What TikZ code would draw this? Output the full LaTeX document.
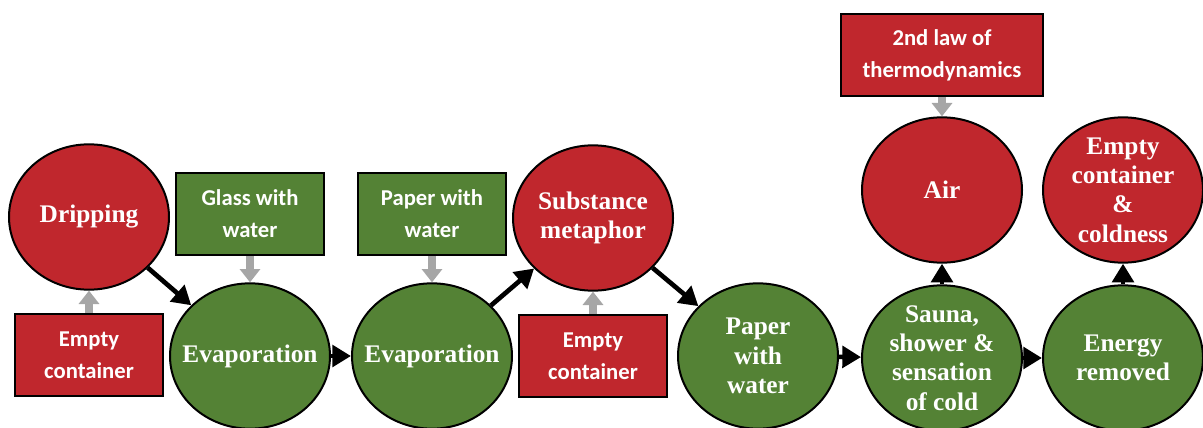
\documentclass[tikz,border=0pt]{standalone}
\usepackage{fontspec}
\setmainfont{Liberation Serif}
\newfontfamily\boxfont{Carlito}
\usetikzlibrary{shapes.geometric,arrows.meta}

\definecolor{ideared}{RGB}{192,39,45}
\definecolor{ideagreen}{RGB}{84,130,53}
\definecolor{feedgray}{RGB}{166,166,166}

\tikzset{every picture/.style={line width=0.75pt}}
\tikzset{
  concept/.style={ellipse, draw=black, line width=1.5pt, minimum width=120pt, minimum height=109pt,
    inner sep=0pt},
  conceptlabel/.style={align=center, text=white, inner sep=0pt,
    font=\fontsize{19}{22}\selectfont\bfseries},
  redconcept/.style={concept, fill=ideared},
  greenconcept/.style={concept, fill=ideagreen},
  source/.style={rectangle, draw=black, line width=1.5pt, minimum width=111pt, minimum height=62pt,
    inner sep=0pt, align=center, text=white, font=\boxfont\fontsize{17}{24}\selectfont\bfseries},
  redsource/.style={source, fill=ideared},
  greensource/.style={source, fill=ideagreen},
  flow/.style={-{Triangle[length=14pt,width=16pt]}, line width=3.5pt, black},
  feed/.style={-{Triangle[length=10pt,width=15pt]}, line width=5.5pt, feedgray},
}

\begin{document}
\begin{tikzpicture}[x=0.75pt,y=0.75pt,yscale=-1,xscale=1]
\useasboundingbox (0,0) rectangle (1203,428);

%Ellipses: lower row
\node[redconcept, label={[conceptlabel]center:Dripping}] (drip) at (89,217) {};
\node[greenconcept, label={[conceptlabel]center:Evaporation}] (evapA) at (250,356) {};
\node[greenconcept, label={[conceptlabel]center:Evaporation}] (evapB) at (432,356) {};
\node[redconcept, label={[conceptlabel]center:Substance\\metaphor}] (subst) at (593,218) {};
\node[greenconcept, label={[conceptlabel]center:Paper\\with\\water}] (paperw) at (758,356) {};
\node[greenconcept, label={[conceptlabel]center:Sauna,\\shower \&\\sensation\\of cold}] (sauna) at (942,358) {};
\node[greenconcept, label={[conceptlabel]center:Energy\\removed}] (energy) at (1123,358) {};

%Ellipses: upper row
\node[redconcept, label={[conceptlabel]center:Air}] (air) at (942,190) {};
\node[redconcept, label={[conceptlabel]center:Empty\\container\\\&\\coldness}] (cold) at (1123,190) {};

%Rectangles
\node[redsource] (emptyA) at (89,355) {Empty\\container};
\node[greensource] (glass) at (250,214) {Glass with\\water};
\node[greensource] (paperbox) at (432,214) {Paper with\\water};
\node[redsource] (emptyB) at (593,356) {Empty\\container};
\node[redsource, minimum width=152pt] (law) at (942,55) {2nd law of\\thermodynamics};

%Gray arrows
\draw[feed] (emptyA) -- (drip);
\draw[feed] (glass) -- (evapA);
\draw[feed] (paperbox) -- (evapB);
\draw[feed] (emptyB) -- (subst);
\draw[feed] (law) -- (air);

%Black arrows
\draw[flow] (drip) -- (evapA);
\draw[flow] (evapA) -- (evapB);
\draw[flow] (evapB) -- (subst);
\draw[flow] (subst) -- (paperw);
\draw[flow] (paperw) -- (sauna);
\draw[flow] (sauna) -- (energy);
\draw[flow] (sauna) -- (air);
\draw[flow] (energy) -- (cold);

\end{tikzpicture}
\end{document}
